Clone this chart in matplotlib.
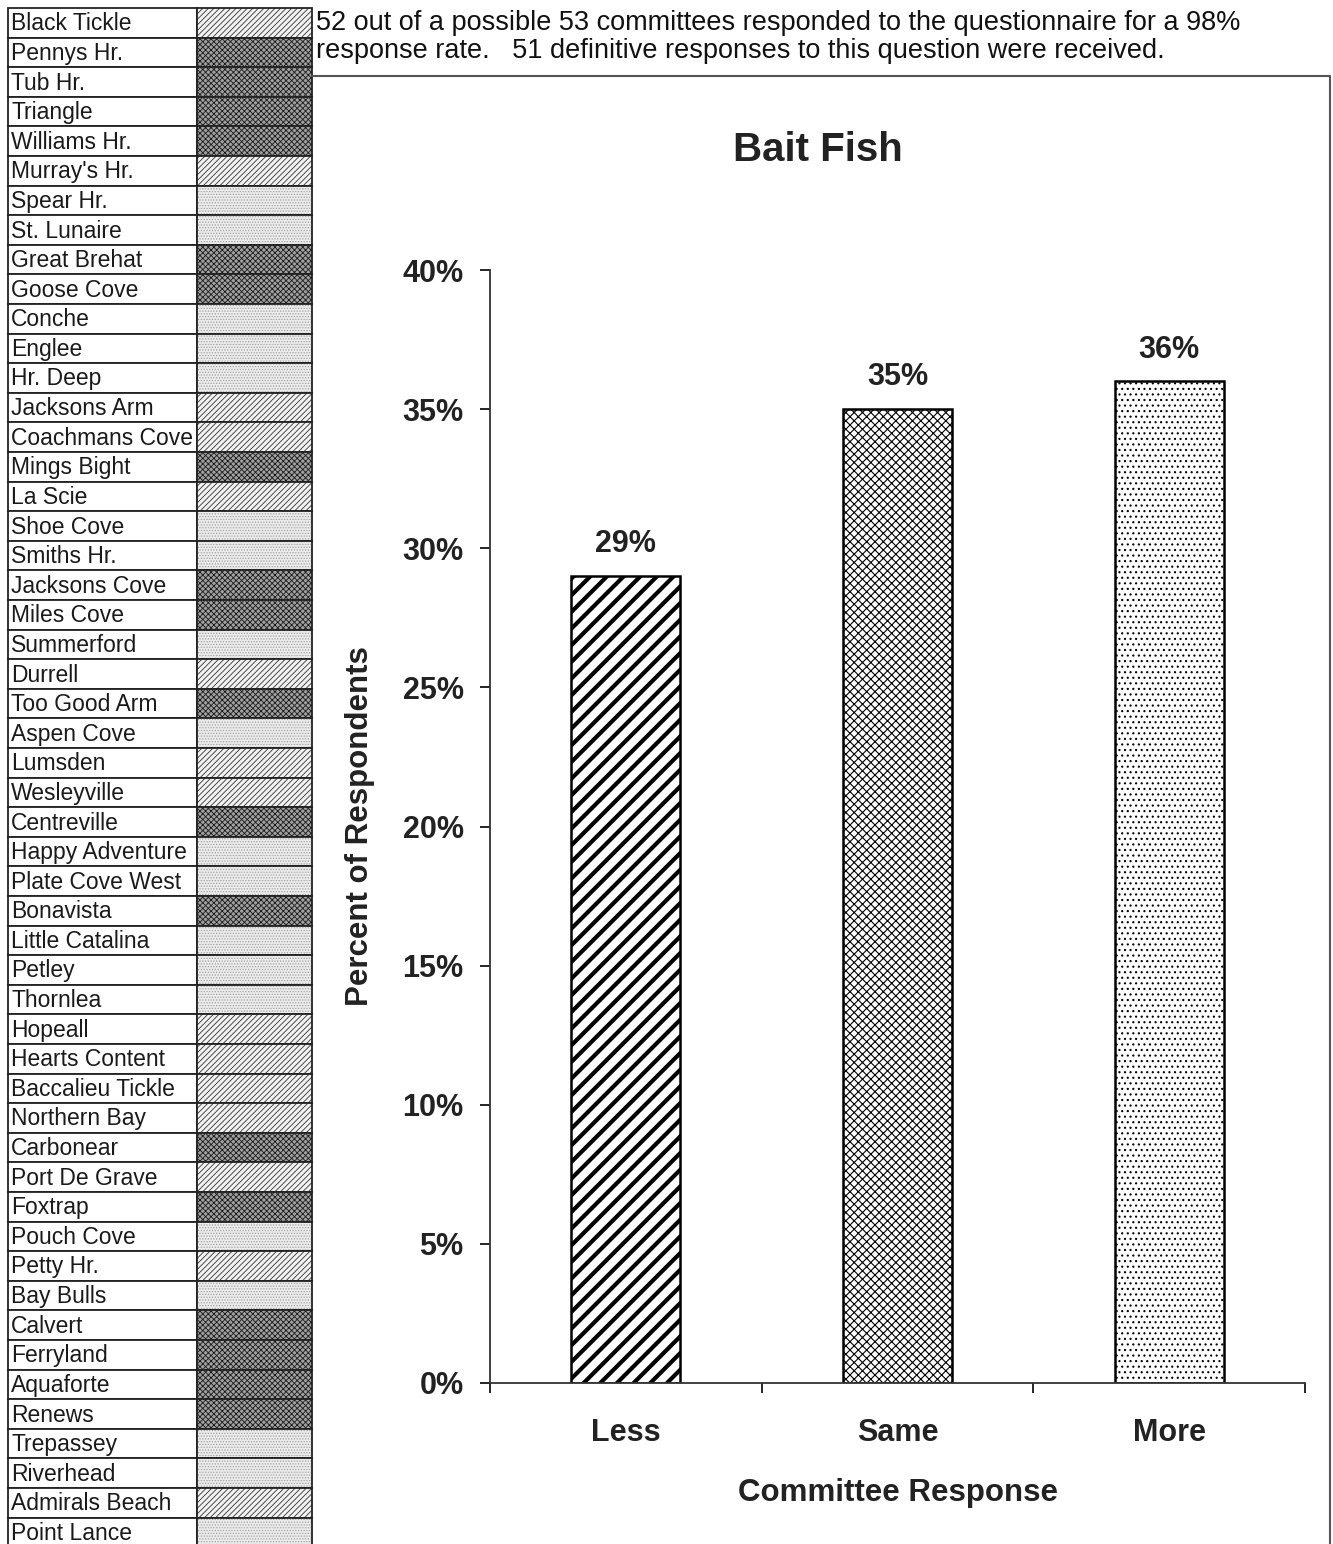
"""Bait Fish - committee responses"""

import matplotlib

matplotlib.use("Agg")
import matplotlib.pyplot as plt
from matplotlib.patches import Rectangle

plt.rcParams["font.family"] = ["Liberation Sans", "DejaVu Sans"]

# chart data
categories = ["Less", "Same", "More"]
percents = [29, 35, 36]

# committees in the left table and the response of each
committees = [
    "Black Tickle", "Pennys Hr.", "Tub Hr.", "Triangle", "Williams Hr.",
    "Murray's Hr.", "Spear Hr.", "St. Lunaire", "Great Brehat", "Goose Cove",
    "Conche", "Englee", "Hr. Deep", "Jacksons Arm", "Coachmans Cove",
    "Mings Bight", "La Scie", "Shoe Cove", "Smiths Hr.", "Jacksons Cove",
    "Miles Cove", "Summerford", "Durrell", "Too Good Arm", "Aspen Cove",
    "Lumsden", "Wesleyville", "Centreville", "Happy Adventure",
    "Plate Cove West", "Bonavista", "Little Catalina", "Petley", "Thornlea",
    "Hopeall", "Hearts Content", "Baccalieu Tickle", "Northern Bay",
    "Carbonear", "Port De Grave", "Foxtrap", "Pouch Cove", "Petty Hr.",
    "Bay Bulls", "Calvert", "Ferryland", "Aquaforte", "Renews", "Trepassey",
    "Riverhead", "Admirals Beach", "Point Lance",
]
responses = [
    "Less", "Same", "Same", "Same", "Same",
    "Less", "More", "More", "Same", "Same",
    "More", "More", "More", "Less", "Less",
    "Same", "Less", "More", "More", "Same",
    "Same", "More", "Less", "Same", "More",
    "Less", "Less", "Same", "More",
    "More", "Same", "More", "More", "More",
    "Less", "Less", "Less", "Less",
    "Same", "Less", "Same", "More", "Less",
    "More", "Same", "Same", "Same", "Same", "More",
    "More", "Less", "More",
]

header = ("52 out of a possible 53 committees responded to the questionnaire for a 98%\n"
          "response rate.   51 definitive responses to this question were received.")

# styles
bar_style = {
    "Less": dict(hatch="//", lw_hatch=3.0),
    "Same": dict(hatch="xxxx", lw_hatch=0.8),
    "More": dict(hatch="...", lw_hatch=0.8),
}
swatch_style = {
    "Less": dict(face="#f2f2f2", hatchc="#333333", hatch="//////"),
    "Same": dict(face="#a0a0a0", hatchc="#1a1a1a", hatch="xxxxxx"),
    "More": dict(face="#ececec", hatchc="#a0a0a0", hatch="......"),
}

W, H = 1333, 1544
fig = plt.figure(figsize=(W / 100, H / 100), dpi=100)

# background layer in pixel coordinates
bg = fig.add_axes([0, 0, 1, 1])
bg.set_xlim(0, W)
bg.set_ylim(H, 0)
bg.set_axis_off()

# left table
x0, x1, x2 = 8, 197, 312
y0, rh = 8, 29.6
for i, (name, resp) in enumerate(zip(committees, responses)):
    top = y0 + i * rh
    bg.add_patch(Rectangle((x0, top), x1 - x0, rh, facecolor="white",
                           edgecolor="#222222", lw=1.3))
    st = swatch_style[resp]
    sw = Rectangle((x1, top), x2 - x1, rh, facecolor=st["face"],
                   edgecolor=st["hatchc"], hatch=st["hatch"], lw=0)
    if hasattr(sw, "set_hatch_linewidth"):
        sw.set_hatch_linewidth(0.6)
    bg.add_patch(sw)
    bg.add_patch(Rectangle((x1, top), x2 - x1, rh, fill=False,
                           edgecolor="#222222", lw=1.3))
    bg.text(x0 + 3, top + rh / 2 + 1, name, fontsize=16.5, va="center",
            ha="left", color="#1a1a1a")

# header text, title and chart frame
bg.text(316, 37, header, fontsize=19.5, va="center", ha="left",
        color="#111111", linespacing=1.1)
bg.plot([312, 1330, 1330], [76, 76, H + 5], color="#555555", lw=1.5)
bg.text(818, 150, "Bait Fish", fontsize=29, fontweight="bold",
        color="#222222", ha="center", va="center")

# main chart
ax = fig.add_axes([490 / W, 1 - 1383 / H, 815 / W, (1383 - 270) / H])
x = range(len(categories))
for xi, cat, val in zip(x, categories, percents):
    st = bar_style[cat]
    bar = ax.bar(xi, val, width=0.4, color="white", edgecolor="black",
                 hatch=st["hatch"], lw=1.8)[0]
    if hasattr(bar, "set_hatch_linewidth"):
        bar.set_hatch_linewidth(st["lw_hatch"])
    ax.text(xi, val + 0.6, f"{val}%", ha="center", va="bottom",
            fontsize=22, fontweight="bold", color="#222222")

ax.set_xlim(-0.5, 2.5)
ax.set_ylim(0, 40)
ax.set_yticks(range(0, 41, 5))
ax.set_yticklabels([f"{v}%" for v in range(0, 41, 5)], fontsize=22,
                   fontweight="bold", color="#222222")
ax.set_xticks([-0.5, 0.5, 1.5, 2.5])
ax.set_xticklabels([])
ax.set_xticks(list(x), minor=True)
ax.set_xticklabels(categories, minor=True, fontsize=22, fontweight="bold",
                   color="#222222")
ax.tick_params(axis="x", which="major", direction="out", length=7, width=1.2)
ax.tick_params(axis="x", which="minor", length=0, pad=25)
ax.tick_params(axis="y", direction="out", length=7, width=1.2, pad=12)
for side in ["top", "right"]:
    ax.spines[side].set_visible(False)
for side in ["left", "bottom"]:
    ax.spines[side].set_linewidth(1.3)
    ax.spines[side].set_color("#333333")
ax.set_facecolor("none")

ax.set_xlabel("Committee Response", fontsize=22.5, fontweight="bold",
              color="#222222", labelpad=22)
ax.set_ylabel("Percent of Respondents", fontsize=22.5, fontweight="bold",
              color="#222222", labelpad=20)

fig.savefig("out.png", dpi=100)
